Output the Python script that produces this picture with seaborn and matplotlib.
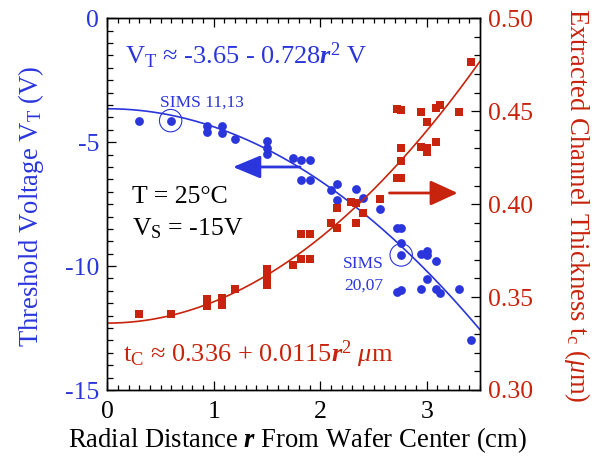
import numpy as np
import pandas as pd
import matplotlib
matplotlib.use("Agg")
import matplotlib.pyplot as plt
import seaborn as sns

# ---------------- data ----------------
vt_r = [0.30, 0.595, 0.94, 0.94, 1.08, 1.08, 1.20, 1.50, 1.50, 1.50, 1.74, 1.82, 1.90,
        1.82, 1.90, 2.10, 2.16, 2.16, 2.34, 2.40, 2.56, 2.72, 2.76, 2.76, 2.76,
        2.95, 3.00, 3.00, 3.09, 3.00, 2.72, 2.76, 2.95, 3.09, 3.12, 3.30, 3.42]
vt_v = [-4.13, -4.13, -4.33, -4.60, -4.35, -4.64, -4.86, -4.95, -5.25, -5.48, -5.62, -5.70, -5.70,
        -6.54, -6.54, -6.92, -6.70, -7.33, -6.90, -7.24, -7.71, -8.45, -8.47, -9.08, -9.55,
        -9.51, -9.38, -9.55, -9.78, -10.52, -11.03, -10.97, -10.92, -10.92, -11.10, -10.92, -12.98]

tc_r = [0.30, 0.595, 0.94, 0.94, 1.08, 1.08, 1.20, 1.50, 1.50, 1.50, 1.74, 1.82, 1.90,
        1.82, 1.90, 2.10, 2.16, 2.16, 2.29, 2.34, 2.40, 2.34, 2.56, 2.72, 2.76,
        2.76, 2.76, 2.72, 2.76, 2.95, 3.00, 3.00, 2.95, 3.00, 3.09, 3.12, 3.09, 3.30, 3.42]
tc_t = [0.3407, 0.3407, 0.3488, 0.3452, 0.3493, 0.3457, 0.3545, 0.3649, 0.3610, 0.3565, 0.3673, 0.3703, 0.3703,
        0.3838, 0.3838, 0.3900, 0.3873, 0.3978, 0.4013, 0.4004, 0.3954, 0.3900, 0.4027, 0.4510, 0.4507,
        0.4300, 0.4234, 0.4139, 0.4139, 0.4309, 0.4300, 0.4282, 0.4497, 0.4444, 0.4516, 0.4534, 0.4336, 0.4497, 0.4767]

sims_r = [0.595, 2.76]
sims_v = [-4.13, -9.55]

# fit coefficients shown on the chart
vt_a, vt_b = -3.65, -0.728
tc_a, tc_b = 0.336, 0.0115

x_ticks = [0, 1, 2, 3]
vt_ticks = [-15, -10, -5, 0]
tc_ticks = [0.30, 0.35, 0.40, 0.45, 0.50]

BLUE = "#2A35DC"
RED = "#C8230C"

sns.set_theme(style="ticks")
plt.rcParams["font.family"] = ["Liberation Serif", "DejaVu Serif"]
plt.rcParams["mathtext.fontset"] = "custom"
plt.rcParams["mathtext.rm"] = "Liberation Serif"
plt.rcParams["mathtext.it"] = "Liberation Serif:italic"
plt.rcParams["mathtext.bf"] = "Liberation Serif:bold:italic"

FS = 18.5
LFS = 19.2

fig = plt.figure(figsize=(6.01, 4.65), dpi=100)
ax = fig.add_axes([107.3 / 601, 75 / 465, 372.7 / 601, 371.7 / 465])
ax2 = ax.twinx()

df_v = pd.DataFrame({"r": vt_r, "v": vt_v})
df_t = pd.DataFrame({"r": tc_r, "t": tc_t})
r_fit = np.linspace(0, 3.5, 300)
df_fv = pd.DataFrame({"r": r_fit, "v": vt_a + vt_b * r_fit ** 2})
df_ft = pd.DataFrame({"r": r_fit, "t": tc_a + tc_b * r_fit ** 2})

sns.lineplot(data=df_fv, x="r", y="v", ax=ax, color=BLUE, lw=1.2, zorder=2)
sns.scatterplot(data=df_v, x="r", y="v", ax=ax, color=BLUE, marker="o", s=40, linewidth=0, zorder=3)
ax.scatter(sims_r, sims_v, s=260, facecolors="none", edgecolors=BLUE, linewidths=0.8, zorder=3)

sns.lineplot(data=df_ft, x="r", y="t", ax=ax2, color=RED, lw=1.2, zorder=2)
sns.scatterplot(data=df_t, x="r", y="t", ax=ax2, color=RED, marker="s", s=38, linewidth=0, zorder=3)

ax.set_xlim(0, 3.5)
ax.set_ylim(-15, 0)
ax2.set_ylim(0.30, 0.50)
ax.set_xlabel("")
ax.set_ylabel("")
ax2.set_xlabel("")
ax2.set_ylabel("")

ax.set_xticks(x_ticks)
ax.set_xticks(np.arange(0, 3.501, 0.1), minor=True)
ax.set_yticks(vt_ticks)
ax.set_yticks(np.arange(-15, 0.01, 0.5), minor=True)
ax2.set_yticks(tc_ticks)
ax2.set_yticks(np.arange(0.30, 0.5001, 0.01), minor=True)
ax.set_xticklabels([str(v) for v in x_ticks])
ax.set_yticklabels([str(v) for v in vt_ticks])
ax2.set_yticklabels(["%.2f" % v for v in tc_ticks])

ax.tick_params(axis="x", which="both", direction="in", top=True, bottom=True, colors="black",
               labelsize=FS, pad=8)
ax.tick_params(axis="x", which="major", length=6.5, width=0.9)
ax.tick_params(axis="x", which="minor", length=3.6, width=0.9)
ax.tick_params(axis="y", which="both", direction="in", left=True, right=False, labelsize=FS,
               labelcolor=BLUE, color="black", pad=6)
ax.tick_params(axis="y", which="major", length=6.5, width=0.9)
ax.tick_params(axis="y", which="minor", length=4.3, width=0.9)
ax2.tick_params(axis="y", which="both", direction="in", right=True, left=False, labelsize=FS,
                labelcolor=RED, color="black", pad=6)
ax2.tick_params(axis="y", which="major", length=6.5, width=0.9)
ax2.tick_params(axis="y", which="minor", length=4.3, width=0.9)

for a in (ax, ax2):
    for s in a.spines.values():
        s.set_visible(True)
        s.set_color("black")
        s.set_linewidth(1.0)

# arrows
ax.annotate("", xy=(1.18, -6.0), xytext=(1.81, -6.0),
            arrowprops=dict(arrowstyle="-|>,head_length=1.2,head_width=0.5", color=BLUE,
                            lw=2.0, mutation_scale=14, shrinkA=0, shrinkB=0))
ax2.annotate("", xy=(3.29, 0.406), xytext=(2.65, 0.406),
             arrowprops=dict(arrowstyle="-|>,head_length=1.2,head_width=0.55", color=RED,
                             lw=2.0, mutation_scale=14, shrinkA=0, shrinkB=0))

# texts
tr = ax.transAxes
ax.text(0.048, 0.8753, r"V$_{\rm T}$ ≈ -3.65 - 0.728$\mathbf{r}^{2}$ V", transform=tr,
        color=BLUE, fontsize=FS + 0.5, ha="left", va="baseline")
ax.text(0.141, 0.761, "SIMS 11,13", transform=tr, color=BLUE, fontsize=12.5,
        ha="left", va="baseline")
ax.text(0.688, 0.328, "SIMS", transform=tr, color=BLUE, fontsize=12.5,
        ha="center", va="baseline")
ax.text(0.688, 0.269, "20,07", transform=tr, color=BLUE, fontsize=12.5,
        ha="center", va="baseline")
ax.text(0.066, 0.503, "T = 25°C", transform=tr, color="black", fontsize=FS,
        ha="left", va="baseline")
ax.text(0.066, 0.417, r"V$_{\rm S}$ = -15V", transform=tr, color="black", fontsize=FS,
        ha="left", va="baseline")
ax.text(0.042, 0.0753, r"t$_{\rm C}$ ≈ 0.336 + 0.0115$\mathbf{r}^{2}$ $\mu$m", transform=tr,
        color=RED, fontsize=FS + 0.5, ha="left", va="baseline")

fig.text(297.5 / 601, 1 - 440 / 465, r"Radial Distance $\mathbf{r}$ From Wafer Center (cm)",
         fontsize=LFS, color="black", ha="center", va="center")
fig.text(31 / 601, 1 - 206 / 465, r"Threshold Voltage V$_{\rm T}$ (V)",
         fontsize=LFS, color=BLUE, ha="center", va="center", rotation=90)
fig.text(577 / 601, 1 - 205 / 465, r"Extracted Channel Thickness t$_{\rm c}$ ($\mu$m)",
         fontsize=LFS, color=RED, ha="center", va="center", rotation=270)

fig.savefig("out.png", dpi=100)
